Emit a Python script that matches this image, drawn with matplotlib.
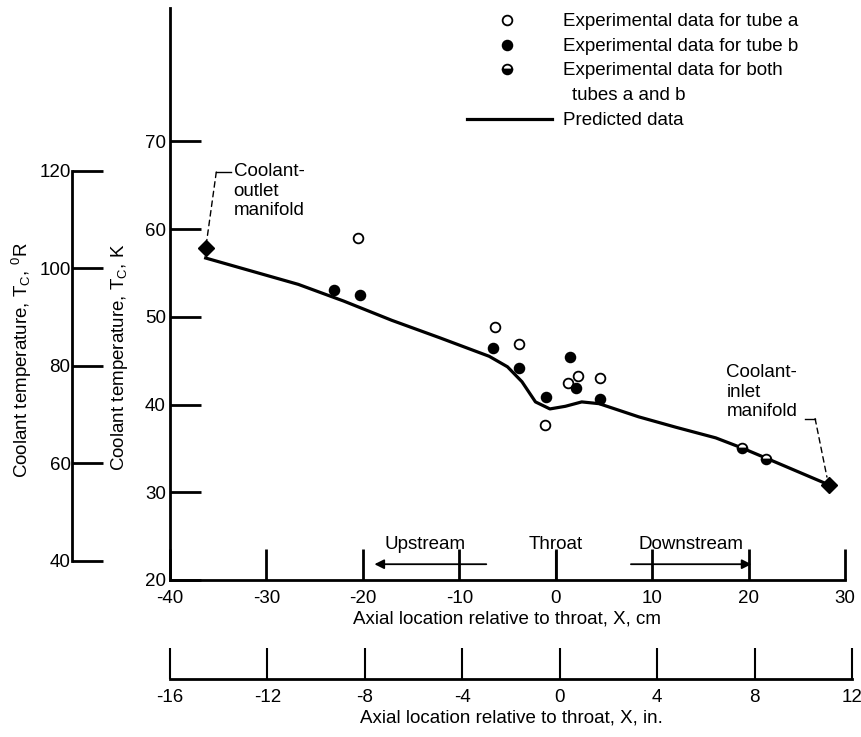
import matplotlib
matplotlib.use('Agg')
import matplotlib.pyplot as plt

# values: axial location X in cm, coolant temperature in K
pred_x = [-36.3, -31.5, -26.7, -22.0, -17.0, -12.0, -6.9, -5.0, -3.5, -2.1, -0.6, 1.0, 2.7, 4.5, 8.6, 12.5, 16.6, 19.2, 21.8, 28.0]
pred_t = [56.7, 55.2, 53.7, 51.8, 49.6, 47.6, 45.5, 44.3, 42.6, 40.3, 39.5, 39.8, 40.3, 40.1, 38.6, 37.4, 36.2, 35.1, 33.9, 31.0]

tube_a_x = [-20.5, -6.3, -3.8, -1.1, 1.3, 2.3, 4.6]
tube_a_t = [59.0, 48.8, 46.9, 37.7, 42.5, 43.3, 43.0]

tube_b_x = [-23.0, -20.3, -6.5, -3.8, -1.0, 1.5, 2.1, 4.6]
tube_b_t = [53.0, 52.5, 46.4, 44.2, 40.9, 45.4, 41.9, 40.6]

both_x = [19.3, 21.8]
both_t = [35.1, 33.8]

manifold_x = [-36.3, 28.3]
manifold_t = [57.8, 30.8]

cm_ticks = [-40, -30, -20, -10, 0, 10, 20, 30]
k_ticks = [20, 30, 40, 50, 60, 70]
r_ticks = [40, 60, 80, 100, 120]
in_ticks = [-16, -12, -8, -4, 0, 4, 8, 12]

plt.rcParams['font.family'] = ['Liberation Sans', 'DejaVu Sans']
plt.rcParams['font.size'] = 13.5
plt.rcParams['axes.unicode_minus'] = False
plt.rcParams['mathtext.default'] = 'regular'

W, H = 862, 737
fig = plt.figure(figsize=(W / 100, H / 100), dpi=100)


def px_box(left, bottom, right, top):
    # figure fraction box from pixel edges (y measured from top)
    return [left / W, 1 - bottom / H, (right - left) / W, (bottom - top) / H]


k_lim = (20, 85.2)

# main axes, cm / K
ax = fig.add_axes(px_box(170, 580, 845, 8))
ax.set_xlim(-40, 30)
ax.set_ylim(*k_lim)
ax.patch.set_visible(False)
for s in ['top', 'right']:
    ax.spines[s].set_visible(False)
for s in ['left', 'bottom']:
    ax.spines[s].set_linewidth(2)
ax.set_xticks(cm_ticks, [str(v) for v in cm_ticks])
ax.set_yticks(k_ticks, [str(v) for v in k_ticks])
ax.tick_params(axis='both', direction='in', length=22, width=2)
ax.tick_params(axis='y', pad=3)
ax.tick_params(axis='x', pad=7)
ax.set_xlabel('Axial location relative to throat, X, cm', labelpad=3)

ax.plot(pred_x, pred_t, color='black', lw=2.3, zorder=2)
ax.plot(tube_a_x, tube_a_t, 'o', ms=7, mfc='white', mec='black', mew=1.3, zorder=3)
ax.plot(tube_b_x, tube_b_t, 'o', ms=7, mfc='black', mec='black', mew=1.3, zorder=3)
ax.plot(both_x, both_t, 'o', ms=7, fillstyle='bottom', mfc='black', mfcalt='white',
        mec='black', mew=1.3, zorder=3)
ax.plot(manifold_x, manifold_t, 'D', ms=8, color='black', zorder=4)

# manifold call-outs
ax.text(-33.4, 67.5, 'Coolant-\noutlet\nmanifold', ha='left', va='top', linespacing=1.2)
ax.plot([-35.2, -33.7], [66.5, 66.5], color='black', lw=1)
ax.annotate('', xy=(manifold_x[0], manifold_t[0]), xytext=(-35.2, 66.5),
            arrowprops=dict(arrowstyle='-', ls=(0, (4, 3)), lw=1, color='black', shrinkA=0, shrinkB=6))
ax.text(17.7, 44.6, 'Coolant-\ninlet\nmanifold', ha='left', va='top', linespacing=1.2)
ax.plot([25.9, 26.9], [38.4, 38.4], color='black', lw=1)
ax.annotate('', xy=(manifold_x[1], manifold_t[1]), xytext=(26.9, 38.4),
            arrowprops=dict(arrowstyle='-', ls=(0, (4, 3)), lw=1, color='black', shrinkA=0, shrinkB=6))

# throat marker and flow direction arrows
ax.vlines(0, 20, 23.3, color='black', lw=1.5)
ax.text(0, 24.1, 'Throat', ha='center', va='center')
ax.text(-13.5, 24.1, 'Upstream', ha='center', va='center')
ax.text(14.0, 24.1, 'Downstream', ha='center', va='center')
ax.annotate('', xy=(-18.8, 21.8), xytext=(-7.2, 21.8),
            arrowprops=dict(arrowstyle='-|>', lw=1.3, color='black', mutation_scale=14, shrinkA=0, shrinkB=0))
ax.annotate('', xy=(20.3, 21.8), xytext=(7.8, 21.8),
            arrowprops=dict(arrowstyle='-|>', lw=1.3, color='black', mutation_scale=14, shrinkA=0, shrinkB=0))

# Rankine scale on the far left
axr = fig.add_axes(px_box(72, 580, 80, 8))
axr.set_ylim(k_lim[0] * 1.8, k_lim[1] * 1.8)
axr.patch.set_visible(False)
for s in ['top', 'right', 'bottom']:
    axr.spines[s].set_visible(False)
axr.spines['left'].set_linewidth(2)
axr.spines['left'].set_bounds(r_ticks[0], r_ticks[-1])
axr.set_xticks([])
axr.set_yticks(r_ticks, [str(v) for v in r_ticks])
axr.tick_params(axis='y', direction='in', length=22, width=2, pad=1)

# inch scale underneath
axi = fig.add_axes(px_box(170, 679, 852, 650))
axi.set_xlim(in_ticks[0], in_ticks[-1])
axi.patch.set_visible(False)
for s in ['top', 'right', 'left']:
    axi.spines[s].set_visible(False)
axi.spines['bottom'].set_linewidth(2)
axi.set_yticks([])
axi.set_xticks(in_ticks, [str(v) for v in in_ticks])
axi.tick_params(axis='x', direction='in', length=22, width=1.5, pad=7)
axi.set_xlabel('Axial location relative to throat, X, in.', labelpad=3)

# y axis titles
fig.text(120 / W, 1 - 357 / H, 'Coolant temperature, T$_C$, K', rotation=90, ha='center', va='center')
fig.text(22 / W, 1 - 360 / H, 'Coolant temperature, T$_C$, $^0$R', rotation=90, ha='center', va='center')

# key, drawn in pixel space
lg = fig.add_axes([0, 0, 1, 1])
lg.set_xlim(0, W)
lg.set_ylim(H, 0)
lg.axis('off')
lg.plot([507], [20], 'o', ms=7, mfc='white', mec='black', mew=1.3)
lg.plot([507], [45], 'o', ms=7, mfc='black', mec='black', mew=1.3)
lg.plot([507], [69], 'o', ms=7, fillstyle='bottom', mfc='black', mfcalt='white', mec='black', mew=1.3)
lg.plot([467, 552], [119, 119], color='black', lw=2.3)
lg.text(563, 21, 'Experimental data for tube a', va='center')
lg.text(563, 46, 'Experimental data for tube b', va='center')
lg.text(563, 70, 'Experimental data for both', va='center')
lg.text(572, 95, 'tubes a and b', va='center')
lg.text(563, 120, 'Predicted data', va='center')

fig.savefig('out.png', dpi=100)
